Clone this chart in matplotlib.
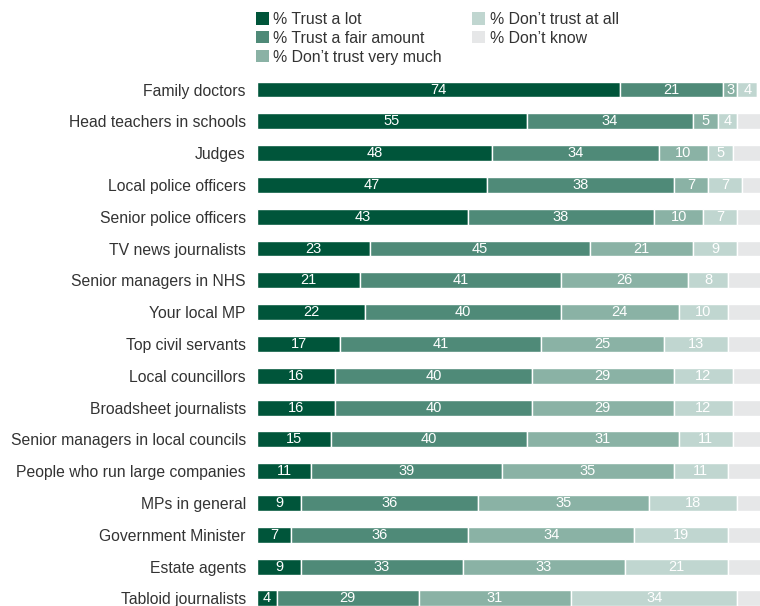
import matplotlib.pyplot as plt
from matplotlib.patches import Patch

plt.rcParams['font.family'] = ['Liberation Sans', 'DejaVu Sans']

# Survey data: % trust in each group
groups = ['Family doctors', 'Head teachers in schools', 'Judges',
          'Local police officers', 'Senior police officers',
          'TV news journalists', 'Senior managers in NHS', 'Your local MP',
          'Top civil servants', 'Local councillors',
          'Broadsheet journalists', 'Senior managers in local councils',
          'People who run large companies', 'MPs in general',
          'Government Minister', 'Estate agents', 'Tabloid journalists']
trust_lot = [74, 55, 48, 47, 43, 23, 21, 22, 17, 16, 16, 15, 11, 9, 7, 9, 4]
trust_fair = [21, 34, 34, 38, 38, 45, 41, 40, 41, 40, 40, 40, 39, 36, 36, 33, 29]
not_much = [3, 5, 10, 7, 10, 21, 26, 24, 25, 29, 29, 31, 35, 35, 34, 33, 31]
not_at_all = [4, 4, 5, 7, 7, 9, 8, 10, 13, 12, 12, 11, 11, 18, 19, 21, 34]
dont_know = [0, 5, 6, 4, 5, 5, 7, 7, 7, 6, 6, 6, 7, 5, 7, 7, 5]

series = [trust_lot, trust_fair, not_much, not_at_all, dont_know]
names = ['% Trust a lot', '% Trust a fair amount', '% Don\u2019t trust very much',
         '% Don\u2019t trust at all', '% Don\u2019t know']
colors = ['#00553a', '#4f8a78', '#8ab2a5', '#c0d6d0', '#e6e7e8']
show_label = [True, True, True, True, False]

fig = plt.figure(figsize=(7.6, 6.06), dpi=100)
ax = fig.add_axes([257 / 760, 0, 503 / 760, 540 / 606])

y = list(range(len(groups)))
left = [0] * len(groups)
for vals, col, lab in zip(series, colors, show_label):
    ax.barh(y, vals, left=left, height=0.5, color=col,
            edgecolor='white', linewidth=1)
    if lab:
        for i, v in enumerate(vals):
            if v > 0:
                ax.text(left[i] + v / 2, i, str(v), ha='center', va='center',
                        color='white', fontsize=10.5)
    left = [a + b for a, b in zip(left, vals)]

ax.set_xlim(0, 102.6)
ax.set_ylim(16.24, -0.74)
ax.set_yticks(y)
ax.set_yticklabels(groups, fontsize=11.3, color='#333333')
ax.tick_params(axis='y', length=0, pad=8)
ax.set_xticks([])
for s in ax.spines.values():
    s.set_visible(False)

handles = [Patch(facecolor=c, edgecolor='none') for c in colors]
fig.legend(handles, names, loc='upper left',
           bbox_to_anchor=(256 / 760, 1 - 12 / 606), ncol=2, frameon=False,
           fontsize=11.4, handlelength=0.8, handleheight=0.8,
           handletextpad=0.3, labelspacing=0.24, columnspacing=1.9,
           borderpad=0, borderaxespad=0, labelcolor='#333333')

fig.savefig('out.png', dpi=100)
